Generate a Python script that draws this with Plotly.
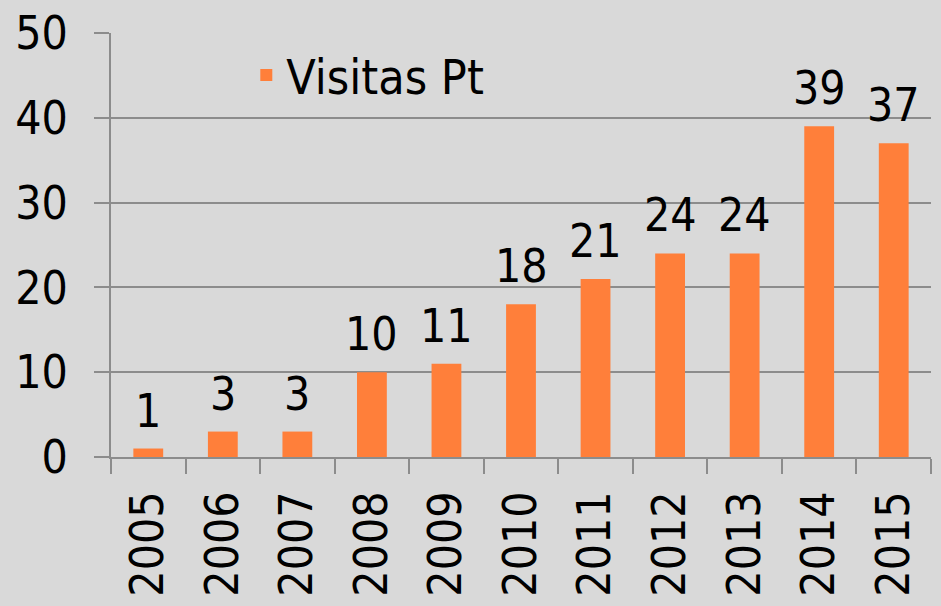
import plotly.graph_objects as go

years = ["2005", "2006", "2007", "2008", "2009", "2010", "2011", "2012", "2013", "2014", "2015"]
visitas = [1, 3, 3, 10, 11, 18, 21, 24, 24, 39, 37]
series_name = "Visitas Pt"
y_ticks = [0, 10, 20, 30, 40, 50]

FONT = "DejaVu Sans Condensed, Liberation Sans, sans-serif"
GRID = "#8c8c8c"
BG = "#d9d9d9"
BAR = "#ff7f3a"

fig = go.Figure()
fig.add_trace(go.Bar(
    x=years, y=visitas, name=series_name,
    marker=dict(color=BAR, line=dict(width=0)),
    showlegend=True,
))

# value labels above each bar, placed through the data axes (category index)
for i, v in enumerate(visitas):
    fig.add_annotation(x=i, y=v, text=str(v), showarrow=False,
                       xref="x", yref="y", yanchor="bottom", yshift=9,
                       font=dict(family=FONT, size=46, color="black"))

fig.update_layout(
    width=941, height=606,
    paper_bgcolor=BG, plot_bgcolor=BG,
    margin=dict(l=111, r=10, t=33, b=149, autoexpand=False),
    bargap=0.6,
    font=dict(family=FONT, size=46, color="black"),
    showlegend=True,
    legend=dict(x=0.165, y=0.99, xanchor="left", yanchor="top",
                bgcolor="rgba(0,0,0,0)", font=dict(size=48),
                itemwidth=30),
    xaxis=dict(
        type="category", categoryorder="array", categoryarray=years,
        showline=True, linecolor=GRID, linewidth=2,
        ticks="outside", ticklen=15, tickwidth=2, tickcolor=GRID,
        tickson="boundaries", tickangle=-90, showgrid=False,
        ticklabelstandoff=14, automargin=False,
        tickfont=dict(family=FONT, size=46),
    ),
    yaxis=dict(
        range=[0, 50], tickvals=y_ticks, showline=True, linecolor=GRID, linewidth=2,
        ticks="outside", ticklen=15, tickwidth=2, tickcolor=GRID,
        showgrid=True, gridcolor=GRID, gridwidth=2, zeroline=False,
        ticklabelstandoff=17, automargin=False,
        tickfont=dict(family=FONT, size=46),
    ),
)

fig.write_html("out.html", config={"displayModeBar": False},
               post_script="document.body.style.margin='0';document.body.style.background='%s';" % BG)
